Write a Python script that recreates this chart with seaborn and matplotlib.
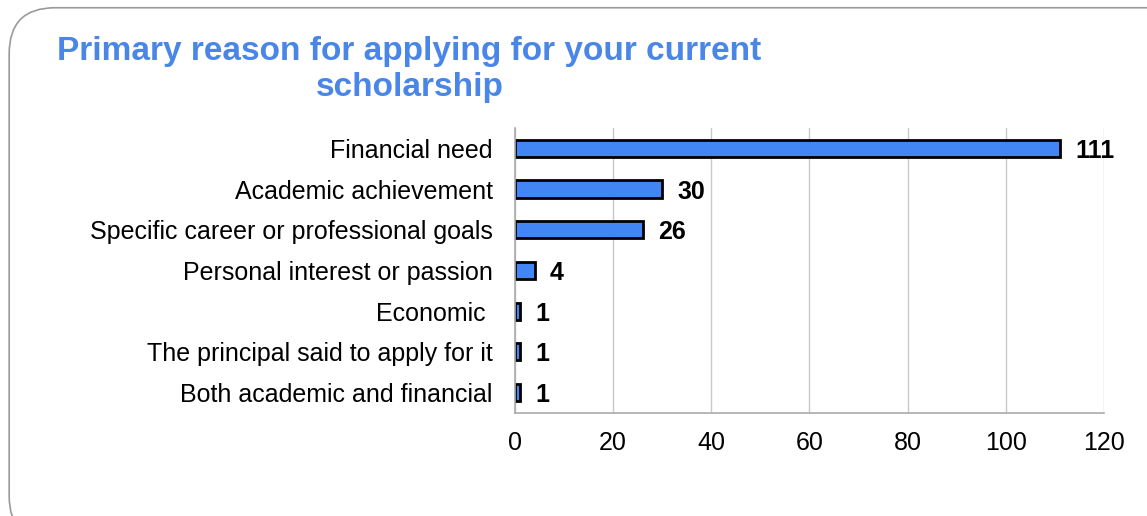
import matplotlib
matplotlib.use("Agg")
import matplotlib.pyplot as plt
import seaborn as sns
import pandas as pd
from matplotlib.patches import FancyBboxPatch

categories = ["Financial need", "Academic achievement", "Specific career or professional goals",
              "Personal interest or passion", "Economic ", "The principal said to apply for it",
              "Both academic and financial"]
values = [111, 30, 26, 4, 1, 1, 1]
xticks = [0, 20, 40, 60, 80, 100, 120]
title = "Primary reason for applying for your current\nscholarship"

sns.set_theme(style="white")
plt.rcParams['font.family'] = ['Liberation Sans', 'DejaVu Sans']

df = pd.DataFrame({"reason": categories, "count": values})

fig = plt.figure(figsize=(11.47, 5.16), dpi=100)
fig.patch.set_facecolor("white")

frame = FancyBboxPatch((0.008, -0.05), 1.2, 1.035, boxstyle="round,pad=0,rounding_size=0.04",
                       transform=fig.transFigure, facecolor="white", edgecolor="#9a9a9a",
                       linewidth=1.2, mutation_aspect=1147/516, zorder=-10)
fig.patches.append(frame)

ax = fig.add_axes([0.449, 0.1996, 0.5135, 0.5524])
ax.set_zorder(5)
ax.set_facecolor("none")
sns.barplot(data=df, y="reason", x="count", orient="h", color="#4285F4",
            edgecolor="black", linewidth=2, width=0.42, saturation=1, ax=ax)

ax.set_xlim(0, 120)
ax.set_ylim(6.5, -0.5)
ax.set_xticks(xticks)
ax.set_xticklabels([str(t) for t in xticks], fontsize=18, color="black")
ax.tick_params(axis="x", length=0, pad=13)
ax.tick_params(axis="y", length=0, pad=16, labelsize=18, labelcolor="black")
ax.set_xlabel("")
ax.set_ylabel("")
ax.grid(axis="x", color="#c8c8c8", linewidth=1)
ax.set_axisbelow(True)
for s in ["top", "right"]:
    ax.spines[s].set_visible(False)
for s in ["left", "bottom"]:
    ax.spines[s].set_color("#aaaaaa")
    ax.spines[s].set_linewidth(1.2)

for i, v in enumerate(values):
    ax.annotate(str(v), xy=(v, i), xytext=(11, 0), textcoords="offset points",
                va="center_baseline", ha="left", fontsize=18, fontweight="bold", color="black")

fig.text(0.357, 0.865, title, ha="center", va="center", fontsize=24, fontweight="bold",
         color="#4A86E8", linespacing=1.2, zorder=6)

fig.savefig("out.png", dpi=100, facecolor="white")
